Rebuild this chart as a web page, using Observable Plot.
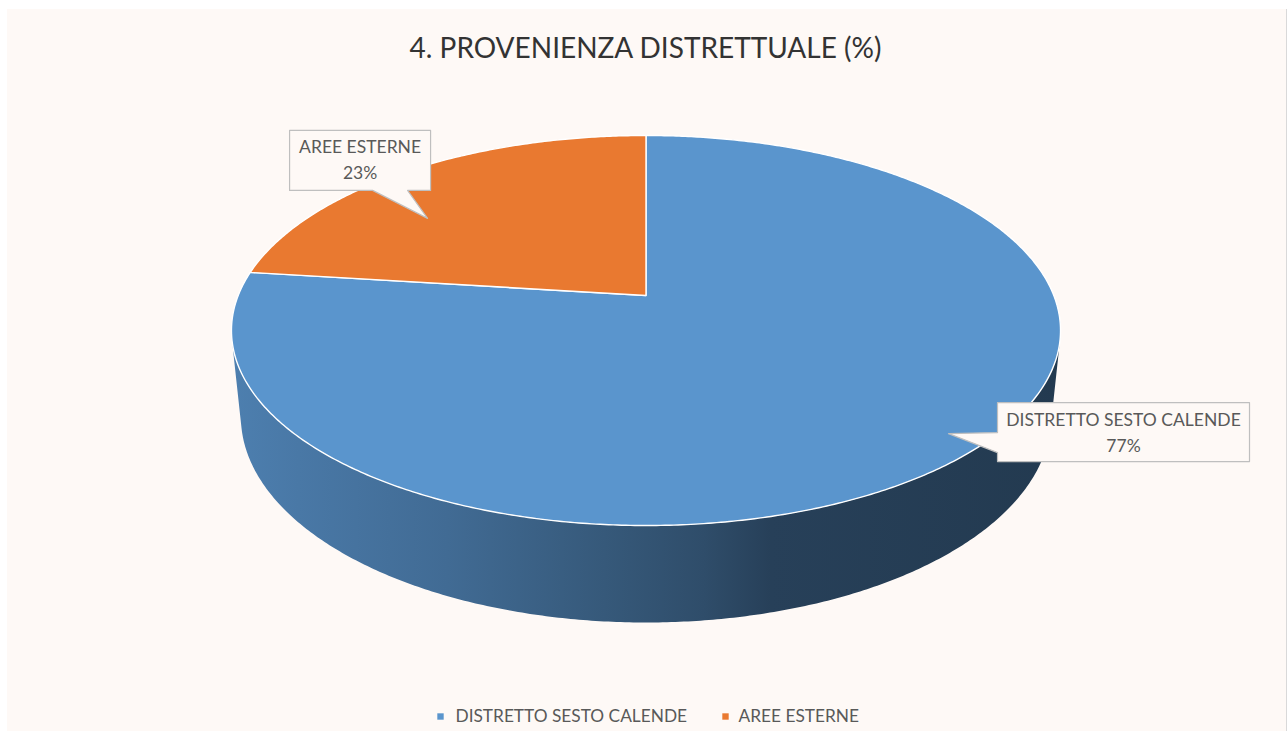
<!DOCTYPE html>
<html><head><meta charset="utf-8">
<script src="https://cdn.jsdelivr.net/npm/d3@7"></script>
<script src="https://cdn.jsdelivr.net/npm/@observablehq/plot@0.6"></script>
<style>
html,body{margin:0;padding:0;background:#fff;width:1288px;height:731px;overflow:hidden}
#bg{position:absolute;left:7px;top:9px;width:1279px;height:722px;background:#FEF9F6;border-right:1px solid #D9D9D9}
#chart{position:absolute;left:0;top:0}
</style></head><body><div id="bg"></div><div id="chart"></div>
<script>
// ---- data ----
const title = "4. PROVENIENZA DISTRETTUALE (%)";
const categories = ["DISTRETTO SESTO CALENDE", "AREE ESTERNE"];
const values = [77, 23];
const colors = ["#5A95CD", "#E97930"];

// ---- layout / style ----
const W = 1288, Hh = 731;
const BG = "#FEF9F6";
const FONT = "Lato, 'Open Sans', sans-serif";
// perspective camera for the 3D pie
const cam = {s: 0.4628, c: 0.8865, D: 4.9387, K: 2014, T: 0.2405, cx: 645.5, cy: 295};
function proj(X, Y, Z) {
  const depth = cam.D - (Y * cam.s + Z * cam.c);
  const up = Y * cam.c - Z * cam.s;
  return {x: cam.cx + cam.K * X / depth, y: cam.cy - cam.K * up / depth};
}
function rim(theta, Y, r = 1) { return proj(r * Math.sin(theta), Y, -r * Math.cos(theta)); }

const total = d3.sum(values);
let acc = 0;
const slices = categories.map((cat, i) => {
  const a0 = acc / total * 2 * Math.PI; acc += values[i];
  const a1 = acc / total * 2 * Math.PI;
  return {cat, i, value: values[i], a0, a1, color: colors[i]};
});

// top faces
const topPts = slices.flatMap(sl => {
  const n = Math.max(8, Math.ceil((sl.a1 - sl.a0) * 180 / Math.PI * 2));
  const c0 = proj(0, 0, 0);
  const pts = [{cat: sl.cat, ...c0}];
  for (let j = 0; j <= n; j++) pts.push({cat: sl.cat, ...rim(sl.a0 + (sl.a1 - sl.a0) * j / n, 0)});
  pts.push({cat: sl.cat, ...c0});
  return pts;
});

// visible cylinder wall (between silhouettes)
const phi = Math.acos(1 / (cam.D * cam.c));
const vis0 = Math.PI - phi, vis1 = Math.PI + phi;
const leftX = rim(vis1, 0).x, rightX = rim(vis0, 0).x;
const walls = slices.map(sl => {
  const b0 = Math.max(sl.a0, vis0), b1 = Math.min(sl.a1, vis1);
  if (b1 <= b0) return null;
  const n = Math.ceil((b1 - b0) * 180 / Math.PI * 2);
  const pts = [];
  for (let j = 0; j <= n; j++) pts.push(rim(b0 + (b1 - b0) * j / n, 0));
  for (let j = n; j >= 0; j--) pts.push(rim(b0 + (b1 - b0) * j / n, -cam.T));
  return {sl, pts};
}).filter(Boolean);
// shading of the wall (darker factors along x)
const shade = [[0, 0.45], [0.08, 0.6], [0.26, 0.92], [0.45, 1.45], [0.57, 1.85], [0.65, 2.35], [1, 2.64]];

// callouts: tip inside slice (fraction of slice angle, radius), box relative to tip
const callouts = [
  {frac: 0.4856, r: 0.921, box: [49, -31, 301, 28], side: "left", base: [-1, 19]},
  {frac: 0.364, r: 0.727, box: [-138, -88, 3, -28], side: "bottom", base: [-55, -20]}
];
const calloutPts = [], labelLines = [];
slices.forEach((sl, i) => {
  const L = callouts[i];
  const tip = rim(sl.a0 + (sl.a1 - sl.a0) * L.frac, 0, L.r);
  const [bx1, by1, bx2, by2] = L.box.map((v, k) => v + (k % 2 ? tip.y : tip.x));
  let poly;
  if (L.side === "bottom") {
    poly = [[bx1, by1], [bx2, by1], [bx2, by2], [tip.x + L.base[1], by2], [tip.x, tip.y], [tip.x + L.base[0], by2], [bx1, by2], [bx1, by1]];
  } else {
    poly = [[bx1, by1], [bx2, by1], [bx2, by2], [bx1, by2], [bx1, tip.y + L.base[1]], [tip.x, tip.y], [bx1, tip.y + L.base[0]], [bx1, by1]];
  }
  poly.forEach(([x, y]) => calloutPts.push({id: sl.cat, x, y}));
  const cx = (bx1 + bx2) / 2;
  labelLines.push({x: cx, y: by1 + 23, text: sl.cat});
  labelLines.push({x: cx, y: by1 + 49, text: `${sl.value}%`});
});

// legend
const legend = [
  {cat: categories[0], sx: 440, tx: 455},
  {cat: categories[1], sx: 725, tx: 738}
];
const legendY = 717;

const svg = Plot.plot({
  width: W, height: Hh, margin: 0,
  x: {domain: [0, W], range: [0, W], axis: null},
  y: {domain: [0, Hh], range: [0, Hh], axis: null},
  color: {domain: categories, range: colors},
  style: {background: "transparent", overflow: "visible"},
  marks: [
    ...walls.map(w => Plot.line(w.pts, {x: "x", y: "y", fill: `url(#wall${w.sl.i})`, stroke: null})),
    Plot.line(topPts, {x: "x", y: "y", z: "cat", fill: "cat", stroke: "white", strokeWidth: 1.4, strokeLinejoin: "round"}),
    Plot.line(calloutPts, {x: "x", y: "y", z: "id", fill: BG, stroke: "#BFBFBF", strokeWidth: 1.2}),
    Plot.text(labelLines, {x: "x", y: "y", text: "text", lineAnchor: "bottom", fontSize: 17.5, fill: "#595959", fontFamily: FONT}),
    Plot.text([title], {x: () => 645, y: () => 57, text: d => d, lineAnchor: "bottom", fontSize: 28, fill: "#333333", fontFamily: FONT}),
    Plot.dot(legend, {x: "sx", y: () => legendY - 1, symbol: "square", r: 3.6, fill: "cat", stroke: null}),
    Plot.text(legend, {x: "tx", y: () => legendY + 4, text: "cat", textAnchor: "start", lineAnchor: "bottom", fontSize: 17.3, fill: "#595959", fontFamily: FONT})
  ]
});

// gradients for the walls
const defs = d3.select(svg).insert("defs", ":first-child");
walls.forEach(w => {
  const g = defs.append("linearGradient").attr("id", `wall${w.sl.i}`)
    .attr("gradientUnits", "userSpaceOnUse")
    .attr("x1", leftX).attr("x2", rightX).attr("y1", 0).attr("y2", 0);
  shade.forEach(([o, k]) => g.append("stop").attr("offset", o).attr("stop-color", d3.color(w.sl.color).darker(k).formatHex()));
});
document.getElementById("chart").appendChild(svg);
</script></body></html>
